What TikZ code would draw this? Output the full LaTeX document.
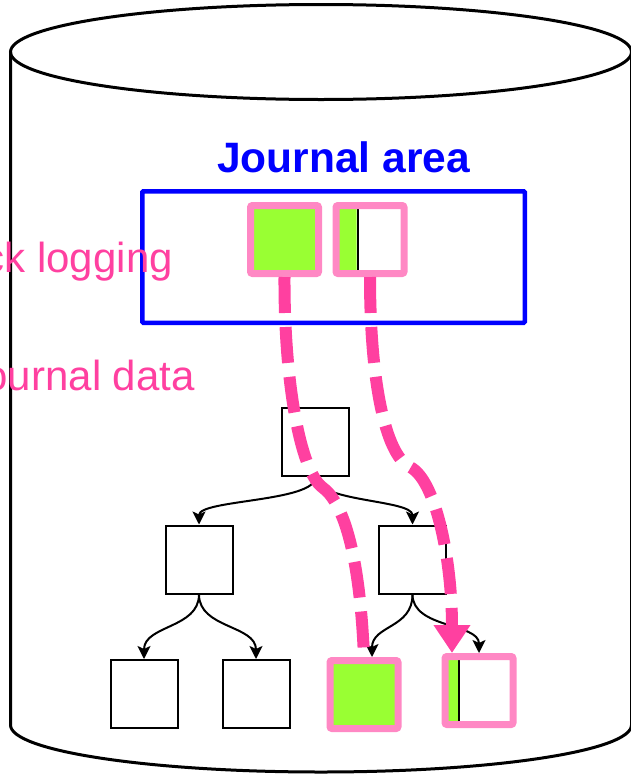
\documentclass[tikz,border=0pt]{standalone}
\usepackage{fontspec}
\setmainfont{Liberation Sans}
\usetikzlibrary{arrows.meta,calc}
\definecolor{jblue}{RGB}{0,0,255}
\definecolor{hotpink}{RGB}{255,64,160}
\definecolor{framepink}{RGB}{255,136,196}
\definecolor{lgreen}{RGB}{153,255,51}
\begin{document}
\begin{tikzpicture}[x=1pt,y=-1pt,
  tbox/.style={draw=black, line width=2pt, fill=white, minimum width=67pt, minimum height=68pt, inner sep=0pt},
  pbox/.style={draw=framepink, line width=7pt, fill=white, minimum width=68pt, minimum height=68pt, inner sep=0pt, rounded corners=2pt},
  greenpart/.style={path picture={
     \fill[lgreen] (path picture bounding box.south west) rectangle ([xshift=#1]path picture bounding box.north west);
     \draw[black,line width=2pt] ([xshift=#1+1pt]path picture bounding box.south west) -- ([xshift=#1+1pt]path picture bounding box.north west);}},
  tarrow/.style={draw=black, line width=2pt, -{Stealth[length=13pt,width=13pt,inset=3pt]}},
  jpath/.style={draw=hotpink, line width=12pt, dash pattern=on 36pt off 14pt},
  plabel/.style={anchor=base east, text=hotpink, inner sep=0pt, font=\fontsize{42}{50}\selectfont},
  cyl/.style={draw=black, line width=3pt}
]
\fill[white] (0,0) rectangle (630,774);
\useasboundingbox (0,0) rectangle (630,774);

% cylinder
\draw[cyl] (321,52) ellipse [x radius=310.5, y radius=47.5];
\draw[cyl] (10.5,52) -- (10.5,725)
   .. controls (10.5,751) and (149.5,772) .. (321,772)
   .. controls (492.5,772) and (631.5,751) .. (631.5,725) -- (631.5,52);

% journal area
\node[anchor=base, text=jblue, inner sep=0pt, font=\fontsize{42.5}{50}\selectfont\bfseries] (jtitle) at (343.5,172) {Journal area};
\node[draw=jblue, line width=4.5pt, minimum width=382.5pt, minimum height=131.5pt, inner sep=0pt, rounded corners=1pt] (jarea) at (333.5,257) {};

% labels
\node[plabel] (lbl1) at (173,272) {ck logging};
\node[plabel] (lbl2) at (195,390) {ournal data};

% journal blocks
\node[pbox, fill=lgreen] (box1) at (284.5,239.5) {};
\node[pbox, greenpart=20.5pt] (box2) at (370,239.5) {};

% tree
\node[tbox] (root) at (315.5,442) {};
\node[tbox] (ml) at (199,559.5) {};
\node[tbox] (mr) at (412.5,559.5) {};
\node[tbox] (l1) at (144,694) {};
\node[tbox] (l2) at (256,694) {};
\node[pbox, fill=lgreen] (l3) at (364,694.5) {};
\node[pbox, greenpart=13pt] (l4) at (479,690.5) {};

\draw[tarrow] (root.south) .. controls ($(root.south)+(0,25)$) and ($(ml.north)+(0,-25)$) .. (ml.north);
\draw[tarrow] (root.south) .. controls ($(root.south)+(0,25)$) and ($(mr.north)+(0,-25)$) .. (mr.north);
\draw[tarrow] (ml.south) .. controls ($(ml.south)+(0,34)$) and ($(l1.north)+(0,-34)$) .. (l1.north);
\draw[tarrow] (ml.south) .. controls ($(ml.south)+(0,34)$) and ($(l2.north)+(0,-34)$) .. (l2.north);
\coordinate (l3t) at ($(l3.north)+(8,0)$);
\draw[tarrow] (mr.south) .. controls ($(mr.south)+(0,34)$) and ($(l3t)+(0,-32)$) .. (l3t);
\draw[tarrow] (mr.south) .. controls ($(mr.south)+(0,34)$) and ($(l4.north)+(0,-30)$) .. (l4.north);

% journal paths
\coordinate (j1) at (322,487);
\coordinate (j2) at (410,467);
\coordinate (t2) at (452,653);
\draw[jpath] (box1.south) .. controls (284,380) and (300,470) .. (j1)
   .. controls (345,503) and (360,560) .. (l3.north);
\draw[jpath, -{Triangle[length=28pt,width=35pt]}] (box2.south) .. controls (370,380) and (385,455) .. (j2)
   .. controls (436,480) and (452,560) .. (t2);
\end{tikzpicture}
\end{document}
